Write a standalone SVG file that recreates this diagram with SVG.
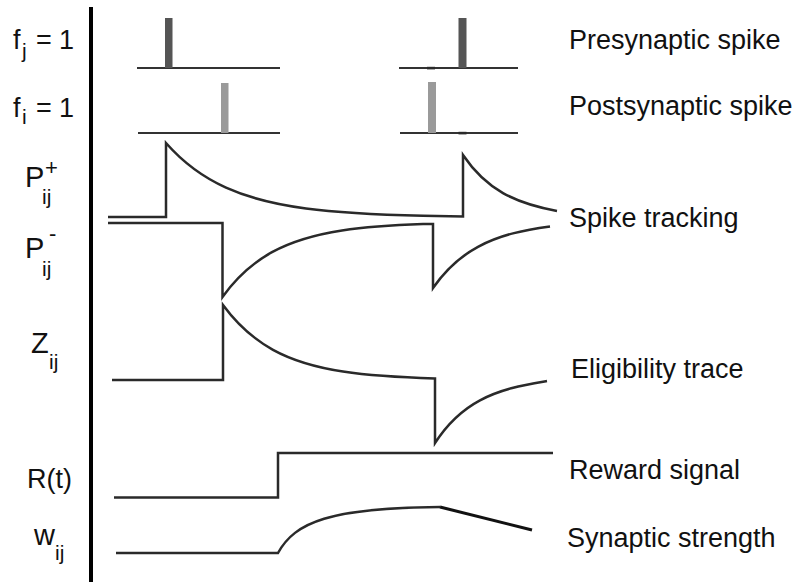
<svg xmlns="http://www.w3.org/2000/svg" width="799" height="582" viewBox="0 0 799 582">
<style>
text{font-family:"Liberation Sans",Arial,Helvetica,sans-serif;fill:#111}
.lbl{font-size:27px}
.big{font-size:29px}
.sub{font-size:21px}
.sup{font-size:22px}
.name{font-size:27px}
.tr{fill:none;stroke:#2a2a2a;stroke-width:2.5;stroke-linejoin:miter}
.base{fill:none;stroke:#333;stroke-width:2}
.pre{fill:#555}
.post{fill:#9a9a9a}
</style>
<rect width="799" height="582" fill="#fff"/>
<line x1="91" y1="7" x2="91" y2="582" stroke="#000" stroke-width="4"/>

<g id="row-fj">
<text class="lbl" x="13" y="49">f</text><text class="sub" x="22" y="58">j</text><text class="lbl" x="36" y="49">=</text><text class="lbl" x="59" y="49">1</text>
<line class="base" x1="137" y1="68" x2="280" y2="68"/>
<line class="base" x1="399" y1="68" x2="518" y2="68"/>
<rect class="pre" x="165" y="18" width="7.5" height="50"/>
<rect class="pre" x="458.5" y="18" width="8" height="50"/>
<rect x="427" y="66.8" width="8" height="2.6" fill="#2a2a2a"/>
<text class="name" x="569" y="49">Presynaptic spike</text>
</g>

<g id="row-fi">
<text class="lbl" x="13" y="116.5">f</text><text class="sub" x="22" y="124">i</text><text class="lbl" x="36" y="116.5">=</text><text class="lbl" x="59" y="116.5">1</text>
<line class="base" x1="138" y1="133" x2="280" y2="133"/>
<line class="base" x1="400" y1="133" x2="518" y2="133"/>
<rect class="post" x="221" y="83" width="7.5" height="50"/>
<rect class="post" x="428" y="82" width="8" height="51"/>
<rect x="458.5" y="131.8" width="8" height="2.6" fill="#2a2a2a"/>
<text class="name" x="569" y="115">Postsynaptic spike</text>
</g>

<g id="row-pplus">
<text class="big" x="25" y="187">P</text><text class="sup" x="45" y="174.5">+</text><text class="sub" x="42" y="204">ij</text>
<path class="tr" d="M108,217 H166 V143 C186,165.8 206,178.6 226,187.6 C252.7,199.65 279.3,204.9 306,208.4 C345,213.55 384,214.75 423,215.8 L463,216.5 V155 C476.3,174.7 489.7,185.5 503,193.1 C521,203.3 539,207.6 557,211"/>
<text class="name" x="569" y="227">Spike tracking</text>
</g>

<g id="row-pminus">
<text class="big" x="25" y="258">P</text><text class="sup" x="49" y="240.5">-</text><text class="sub" x="42" y="276">ij</text>
<path class="tr" d="M108,223 H222.5 V297 C238.7,274.3 255.3,261.4 272,252.2 C295.3,239.4 318.7,234.1 342,230.5 C369,226.3 396,224.9 423,224 L433,224 V288 C448,266.5 463,254.9 478,246.8 C502,233.9 526,229.9 550,226.5"/>
</g>

<g id="row-z">
<text class="big" x="31" y="353">Z</text><text class="sub" x="49" y="369">ij</text>
<path class="tr" d="M112,380 H223 V305 C239.7,327.7 256.3,340.6 273,349.8 C296.3,362.6 319.7,367.9 343,371.5 C373.7,376.2 404.3,377.5 435,378.4 V443 C450,419.8 465,408.3 480,400.3 C502.3,388.5 524.7,384.9 547,381"/>
<text class="name" x="571" y="378">Eligibility trace</text>
</g>

<g id="row-r">
<text class="lbl" x="27" y="488">R(t)</text>
<path class="tr" d="M114,497.5 H278 V453 H553"/>
<text class="name" x="569" y="479">Reward signal</text>
</g>

<g id="row-w">
<text class="big" x="34" y="545">w</text><text class="sub" x="55" y="560">ij</text>
<path class="tr" d="M116,553 H278 C295,522 330,508 440,507"/>
<path d="M440,507 L532,530" fill="none" stroke="#111" stroke-width="3"/>
<text class="name" x="567" y="547">Synaptic strength</text>
</g>
</svg>
